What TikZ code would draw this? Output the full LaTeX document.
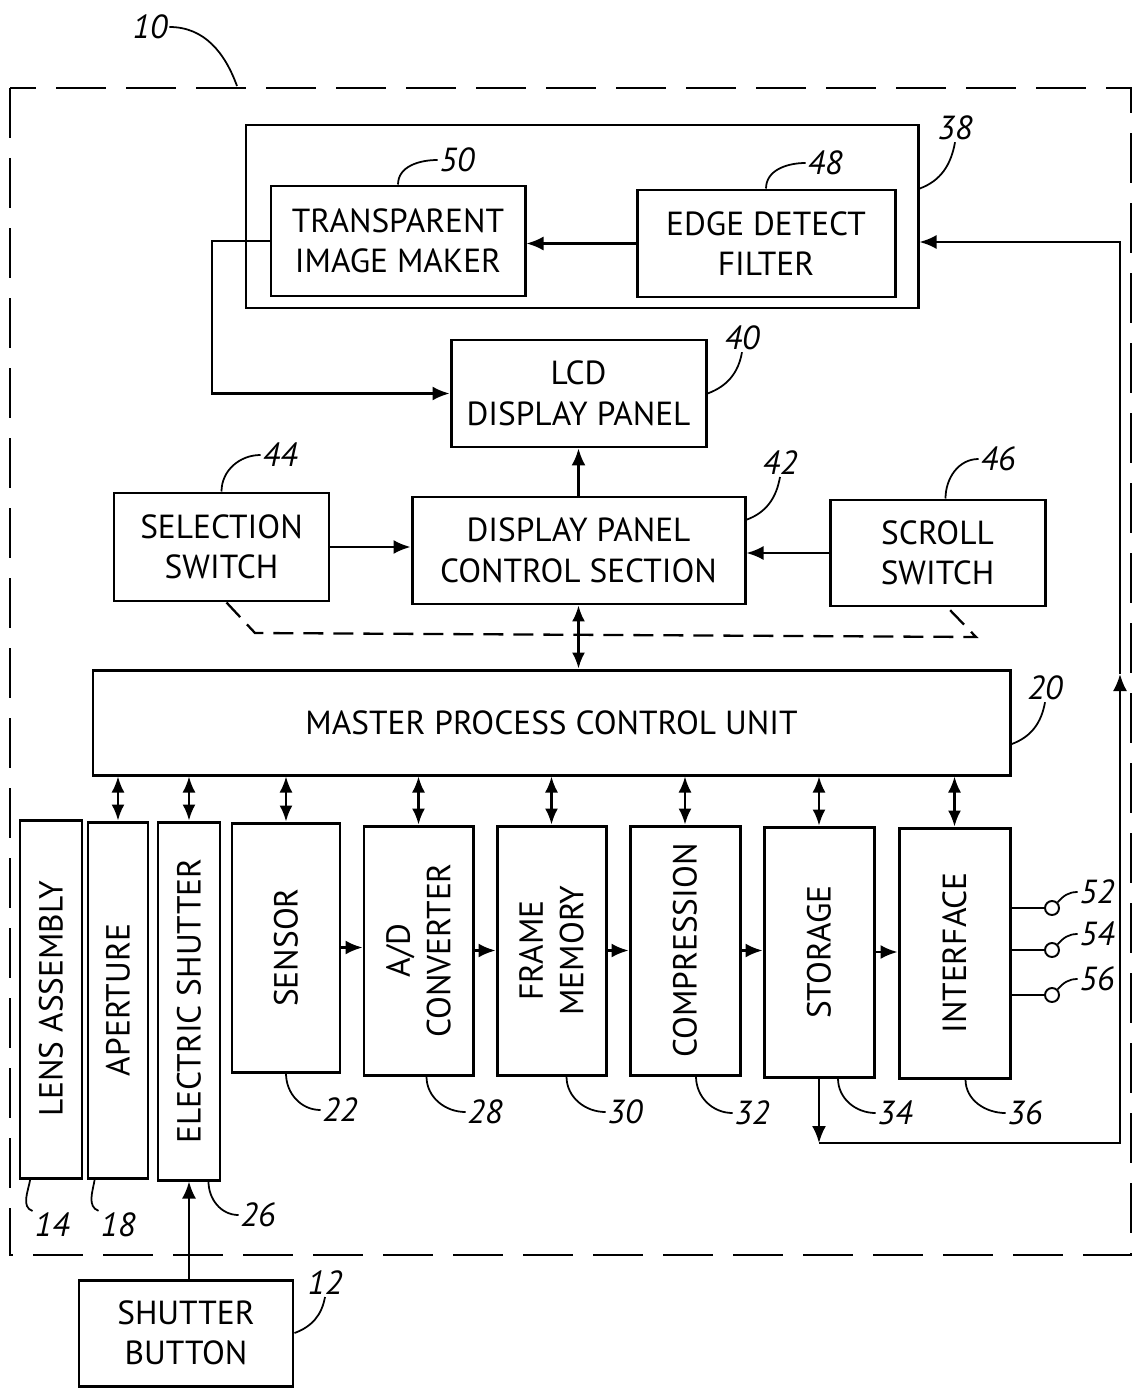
\documentclass[tikz,border=0pt]{standalone}
\usepackage{fontspec}
\setmainfont{PT Sans}
\usetikzlibrary{arrows.meta,calc}
\tikzset{
  block/.style      = {draw, line width=1.7pt, align=center, inner sep=2pt,
                       font=\fontsize{19}{23}\selectfont},
  sz/.style 2 args  = {minimum width=#1*0.2mm, minimum height=#2*0.2mm},
  vtxt/.style       = {rotate=90, align=center, inner sep=0pt, font=\fontsize{19}{23}\selectfont},
  sig/.style        = {-{Latex[length=3.4mm,width=2.8mm]}, line width=1.3pt},
  dsig/.style       = {{Latex[length=3.2mm,width=2.6mm]}-{Latex[length=3.2mm,width=2.6mm]}, line width=1.3pt},
  wire/.style       = {line width=1.3pt},
  lead/.style       = {line width=1pt},
  outer/.style      = {line width=1.3pt, dash pattern=on 10mm off 4mm},
  dline/.style      = {line width=1.3pt, dash pattern=on 4mm off 2mm},
  lbl/.style        = {font=\fontsize{19}{23}\selectfont\itshape, inner sep=1pt},
  term/.style       = {draw, circle, line width=1.1pt, minimum size=2.8mm, inner sep=0pt},
}

\begin{document}
\begin{tikzpicture}[x=0.2mm,y=-0.2mm]
  \useasboundingbox (0,0) rectangle (1136,1389);
  % camera outline
  \draw[outer] (10,88) rectangle (1131,1255);
  \node[lbl] (n10) at (150,27) {10};
  \coordinate (c10) at (237,86);
  \draw[lead] (n10.east) to[out=0,in=110] (c10);
  % overlay group
  \node[block, sz={672}{183}] (grp) at (582,216.5) {};
  \node[block, sz={254}{110}] (tim) at (398,241) {TRANSPARENT\\IMAGE MAKER};
  \node[block, sz={258}{107}] (edf) at (766,243.5) {EDGE DETECT\\FILTER};
  \node[block, sz={255}{107}] (lcd) at (578.5,393.5) {LCD\\DISPLAY PANEL};
  \node[block, sz={215}{108}] (sel) at (221.5,547) {SELECTION\\SWITCH};
  \node[block, sz={333}{107}] (dpc) at (578.5,550.5) {DISPLAY PANEL\\CONTROL SECTION};
  \node[block, sz={215}{106}] (scr) at (937.5,553) {SCROLL\\SWITCH};
  \node[block, sz={917}{105}] (mpc) at (551.5,722.5) {MASTER PROCESS CONTROL UNIT};
  % optics and signal chain
  \node[block, sz={62}{358},  label={[vtxt]center:LENS ASSEMBLY}] (lens) at (51,999) {};
  \node[block, sz={60}{356},  label={[vtxt]center:APERTURE}] (apt) at (118,1000) {};
  \node[block, sz={62}{358},  label={[vtxt]center:ELECTRIC SHUTTER}] (esh) at (189,1001) {};
  \node[block, sz={108}{249}, label={[vtxt]center:SENSOR}] (sen) at (286,947.5) {};
  \node[block, sz={109}{249}, label={[vtxt]center:A/D\\CONVERTER}] (adc) at (418.5,950.5) {};
  \node[block, sz={109}{249}, label={[vtxt]center:FRAME\\MEMORY}] (frm) at (551.5,950.5) {};
  \node[block, sz={110}{249}, label={[vtxt]center:COMPRESSION}] (cmp) at (685,950.5) {};
  \node[block, sz={110}{250}, label={[vtxt]center:STORAGE}] (sto) at (819,952) {};
  \node[block, sz={111}{250}, label={[vtxt]center:INTERFACE}] (int) at (954.5,953) {};
  \node[block, sz={214}{106}] (btn) at (186,1333) {SHUTTER\\BUTTON};
  % signal flow
  \draw[sig] (edf.west) -- (edf.west -| tim.east);
  \coordinate (lp) at (212,241);
  \draw[sig] (tim.west) -- (lp) -- (lp |- lcd.west) -- (lcd.west);
  \draw[sig] (dpc.north) -- (lcd.south);
  \draw[sig] (sel.east) -- (sel.east -| dpc.west);
  \draw[sig] (scr.west) -- (scr.west -| dpc.east);
  \draw[dsig] (dpc.south) -- (dpc.south |- mpc.north);
  \draw[dline] ($(sel.south)+(5,0)$) -- (255,633) -- (976,637) -- ($(scr.south)+(10,0)$);
  \foreach \b in {apt,esh,sen,adc,frm,cmp,sto,int}
    \draw[dsig] (mpc.south -| \b.north) -- (\b.north);
  \foreach \a/\b in {sen/adc,adc/frm,frm/cmp,cmp/sto,sto/int}
    \draw[sig] (\a.east) -- (\a.east -| \b.west);
  \draw[sig] (esh.south |- btn.north) -- (esh.south);
  % feedback to overlay group
  \coordinate (fb1) at (819,1143);
  \coordinate (fb2) at (1120,1143);
  \coordinate (fb3) at (1120,674);
  \coordinate (fb4) at (1120,242);
  \draw[sig] (sto.south) -- (fb1);
  \draw[sig] (fb1) -- (fb2) -- (fb3);
  \draw[sig] (fb3) -- (fb4) -- (fb4 -| grp.east);
  % output terminals
  \foreach \t/\y in {52/908,54/950,56/995} {
    \node[term] (t\t) at (1052,\y) {};
    \draw[wire] (int.east |- t\t) -- (t\t);
    \node[lbl] (n\t) at (1097,\y-16) {\t};
    \draw[lead] (t\t.45) to[out=50,in=180] (n\t.west);
  }
  % reference numerals
  \node[lbl] (n38) at (955,128) {38};
  \node[lbl] (n50) at (457,160) {50};
  \node[lbl] (n48) at (825,163) {48};
  \node[lbl] (n40) at (742,338) {40};
  \node[lbl] (n44) at (280,455) {44};
  \node[lbl] (n42) at (780,463) {42};
  \node[lbl] (n46) at (998,459) {46};
  \node[lbl] (n20) at (1045,688) {20};
  \node[lbl] (n22) at (340,1110) {22};
  \node[lbl] (n28) at (485,1112) {28};
  \node[lbl] (n30) at (625,1112) {30};
  \node[lbl] (n32) at (752,1113) {32};
  \node[lbl] (n34) at (895,1113) {34};
  \node[lbl] (n36) at (1025,1113) {36};
  \node[lbl] (n14) at (52,1225) {14};
  \node[lbl] (n18) at (118,1225) {18};
  \node[lbl] (n26) at (258,1215) {26};
  \node[lbl] (n12) at (325,1283) {12};
  \draw[lead] ($(grp.north east)!0.35!(grp.south east)$) to[out=20,in=-100] (n38.south);
  \draw[lead] (tim.north) to[out=90,in=180] (n50.west);
  \draw[lead] (edf.north) to[out=90,in=180] (n48.west);
  \draw[lead] (lcd.east) to[out=20,in=-100] (n40.south);
  \draw[lead] (sel.north) to[out=90,in=180] (n44.west);
  \draw[lead] ($(dpc.north east)!0.22!(dpc.south east)$) to[out=20,in=-100] (n42.south);
  \draw[lead] ($(scr.north)+(8,0)$) to[out=90,in=180] (n46.west);
  \draw[lead] ($(mpc.north east)!0.7!(mpc.south east)$) to[out=20,in=-100] (n20.south);
  \draw[lead] (sen.south) to[out=-90,in=180] (n22.west);
  \draw[lead] ($(adc.south)+(8,0)$) to[out=-90,in=180] (n28.west);
  \draw[lead] ($(frm.south)+(15,0)$) to[out=-90,in=180] (n30.west);
  \draw[lead] ($(cmp.south)+(11,0)$) to[out=-90,in=180] (n32.west);
  \draw[lead] ($(sto.south)+(19,0)$) to[out=-90,in=180] (n34.west);
  \draw[lead] ($(int.south)+(11,0)$) to[out=-90,in=180] (n36.west);
  \draw[lead] ($(lens.south west)!0.18!(lens.south east)$) to[out=-100,in=160] (n14.north west);
  \draw[lead] ($(apt.south west)!0.13!(apt.south east)$) to[out=-100,in=160] (n18.north west);
  \draw[lead] ($(esh.south west)!0.8!(esh.south east)$) to[out=-90,in=180] (n26.west);
  \draw[lead] (btn.east) to[out=20,in=-100] (n12.south);
\end{tikzpicture}
\end{document}
